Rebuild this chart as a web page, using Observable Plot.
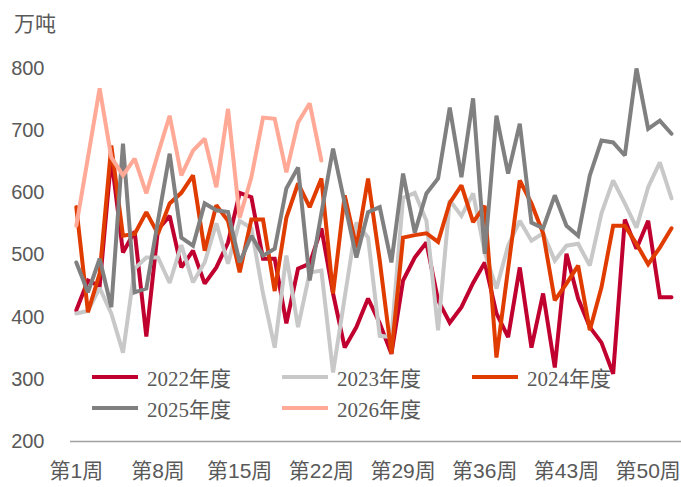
<!DOCTYPE html>
<html>
<head>
<meta charset="utf-8">
<script src="https://cdn.jsdelivr.net/npm/d3@7"></script>
<script src="https://cdn.jsdelivr.net/npm/@observablehq/plot@0.6"></script>
<style>
  body { margin: 0; background: #fff; }
  #wrap { position: relative; width: 681px; height: 487px; overflow: hidden; }
  #title { position: absolute; left: 14px; top: 7px; font: 21px "Noto Sans CJK SC", sans-serif; color: #595959; }
  #legend { position: absolute; left: 92px; top: 361px; display: grid; grid-template-columns: 190px 190px 190px; grid-auto-rows: 31px; }
  .item { display: flex; align-items: center; font: 21px "Liberation Serif", "Noto Sans CJK SC", serif; color: #595959; }
  .sw { width: 46px; height: 4px; margin-right: 9px; }
</style>
</head>
<body>
<div id="wrap">
  <div id="chart"></div>
  <div id="title">万吨</div>
  <div id="legend"></div>
</div>
<script>
const weeks = d3.range(1, 53);
const xTickWeeks = [1, 8, 15, 22, 29, 36, 43, 50];
const yTicks = [200, 300, 400, 500, 600, 700, 800];
const seriesNames = ["2022年度", "2023年度", "2024年度", "2025年度", "2026年度"];
const seriesColors = ["#C0002E", "#C8C8C8", "#E03C00", "#808080", "#FFA996"];

const v2022 = [411,459,450,657,504,538,369,541,563,480,507,454,480,520,600,593,494,494,390,478,486,543,438,351,384,430,390,341,459,496,520,427,391,416,455,488,406,368,480,351,438,319,502,430,384,359,309,557,510,555,432,432];
const v2023 = [406,410,447,406,343,478,496,496,455,516,456,488,551,486,555,543,438,351,499,384,472,475,311,432,552,528,370,368,592,600,555,379,588,563,599,504,446,515,555,523,535,491,515,518,483,567,620,583,544,609,649,591];
const v2024 = [577,408,470,676,531,534,569,534,583,600,628,507,580,555,472,557,557,442,560,615,577,623,438,596,512,623,491,341,528,532,535,521,584,612,553,579,335,478,620,583,535,427,454,483,379,448,547,547,518,485,512,543];
const v2025 = [488,440,494,416,679,440,446,555,663,528,515,583,572,569,488,531,499,510,607,641,459,567,671,583,496,569,577,488,631,536,599,623,737,625,752,502,724,631,711,552,543,596,547,531,628,684,681,660,800,703,716,695];
const v2026 = [547,657,768,657,628,655,599,663,724,628,668,687,609,735,560,625,721,719,633,713,744,652];

const allValues = [v2022, v2023, v2024, v2025, v2026];
const data = allValues.flatMap((vals, i) => vals.map((v, j) => ({week: weeks[j], value: v, series: seriesNames[i]})));

const chart = Plot.plot({
  width: 681,
  height: 487,
  marginLeft: 70,
  marginRight: 0,
  marginTop: 68,
  marginBottom: 46,
  style: {fontFamily: "'Liberation Sans', 'Noto Sans CJK SC', sans-serif", background: "transparent", overflow: "visible"},
  x: {type: "point", domain: weeks, padding: 0.677, align: 0.367},
  y: {domain: [200, 800]},
  marks: [
    Plot.axisY({ticks: yTicks, tickSize: 0, tickPadding: 26, fontSize: 20, color: "#595959", label: null}),
    Plot.axisY({ticks: [], line: true, stroke: "#A0A0A0", strokeWidth: 1.5, label: null}),
    Plot.axisX({ticks: xTickWeeks, tickSize: 0, tickPadding: 22, fontSize: 21, color: "#595959", label: null,
      tickFormat: d => "第" + d + "周"}),
    Plot.ruleY([200], {stroke: "#A0A0A0", strokeWidth: 1.5}),
    ...seriesNames.map((name, i) =>
      Plot.line(data.filter(d => d.series === name), {x: "week", y: "value", stroke: seriesColors[i], strokeWidth: 4, strokeLinejoin: "miter", strokeMiterlimit: 2})
    )
  ]
});
document.getElementById("chart").appendChild(chart);

const legend = document.getElementById("legend");
seriesNames.forEach((name, i) => {
  const item = document.createElement("div");
  item.className = "item";
  const sw = document.createElement("div");
  sw.className = "sw";
  sw.style.background = seriesColors[i];
  item.appendChild(sw);
  const t = document.createElement("span");
  t.textContent = name;
  item.appendChild(t);
  legend.appendChild(item);
});
</script>
</body>
</html>
